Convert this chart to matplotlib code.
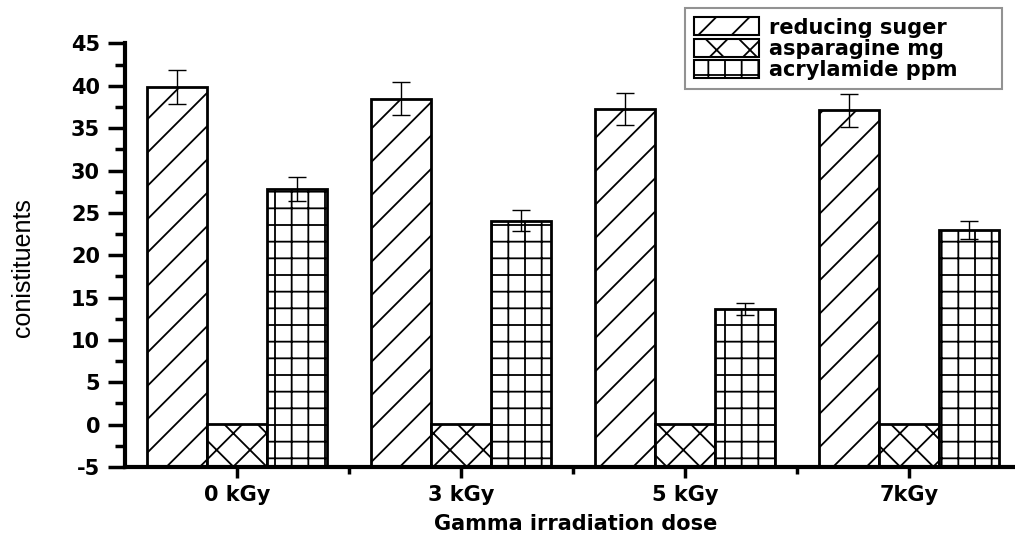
import numpy as np
import matplotlib.pyplot as plt

# dose groups and measured constituents (mean +/- error)
doses = ["0 kGy", "3 kGy", "5 kGy", "7kGy"]
reducing_suger = [39.9, 38.5, 37.3, 37.1]
reducing_err = [2.0, 1.9, 1.9, 1.95]
asparagine = [0.1, 0.1, 0.1, 0.1]
acrylamide = [27.8, 24.1, 13.65, 23.0]
acrylamide_err = [1.45, 1.2, 0.75, 1.1]

plt.rcParams['font.family'] = ['DejaVu Sans']
plt.rcParams['hatch.linewidth'] = 1.3
plt.rcParams['axes.unicode_minus'] = False

fig = plt.figure(figsize=(10.15, 5.35), dpi=100)
ax = fig.add_axes([0.1232, 0.1271, 0.8768, 0.7916])

x = np.arange(1, len(doses) + 1)
w = 0.268
base = -5

ax.bar(x - w, np.array(reducing_suger) - base, w, bottom=base,
       color="white", edgecolor="black", linewidth=2, hatch="/",
       label="reducing suger", zorder=2)
ax.bar(x, np.array(asparagine) - base, w, bottom=base,
       color="white", edgecolor="black", linewidth=2, hatch="x",
       label="asparagine mg", zorder=2)
ax.bar(x + w, np.array(acrylamide) - base, w, bottom=base,
       color="white", edgecolor="black", linewidth=2, hatch="+",
       label="acrylamide ppm", zorder=2)

ax.errorbar(x - w, reducing_suger, yerr=reducing_err, fmt="none",
            ecolor="black", elinewidth=1, capsize=6.5, capthick=1, zorder=3)
ax.errorbar(x + w, acrylamide, yerr=acrylamide_err, fmt="none",
            ecolor="black", elinewidth=1, capsize=6.5, capthick=1, zorder=3)

ax.set_xlim(0.5, 4.473)
ax.set_ylim(-5, 45)
ax.set_yticks(np.arange(-5, 46, 5))
ax.set_yticks(np.arange(-2.5, 45, 5), minor=True)
ax.set_xticks(x)
ax.set_xticks(x[:-1] + 0.5, minor=True)
ax.set_xticklabels(doses)

for s in ["top", "right"]:
    ax.spines[s].set_visible(False)
for s in ["left", "bottom"]:
    ax.spines[s].set_linewidth(3)

ax.tick_params(axis="y", which="major", direction="out", length=12, width=2.5,
               labelsize=15, pad=6)
ax.tick_params(axis="y", which="minor", direction="out", length=7, width=2.5)
ax.tick_params(axis="x", which="major", direction="out", length=8, width=2.5,
               labelsize=15, pad=5)
ax.tick_params(axis="x", which="minor", direction="out", length=5, width=2.5)
for lab in ax.get_xticklabels() + ax.get_yticklabels():
    lab.set_fontweight("bold")

fig.text(0.567, 1 - 524 / 535, "Gamma irradiation dose", ha="center",
         va="center", fontsize=15, fontweight="bold")
fig.text(0.023, 0.5, "conistituents", rotation=90, ha="center", va="center",
         fontsize=18, family=["Liberation Sans", "DejaVu Sans"])

# legend box spans a fixed region in the upper right corner
leg = ax.legend(loc="upper left",
                bbox_to_anchor=(685 / 1015, 1 - 88 / 535, 317 / 1015, 80 / 535),
                bbox_transform=fig.transFigure, mode="expand", frameon=True,
                fancybox=False, prop={"weight": "bold", "size": 15},
                handlelength=3.1, handleheight=0.95, handletextpad=0.5,
                labelspacing=0.05, borderpad=0.45, borderaxespad=0)
leg.get_frame().set_edgecolor("#777777")
leg.get_frame().set_linewidth(1.5)
for h in leg.legend_handles:
    h.set_linewidth(1.5)

fig.savefig("out.png", dpi=100)
